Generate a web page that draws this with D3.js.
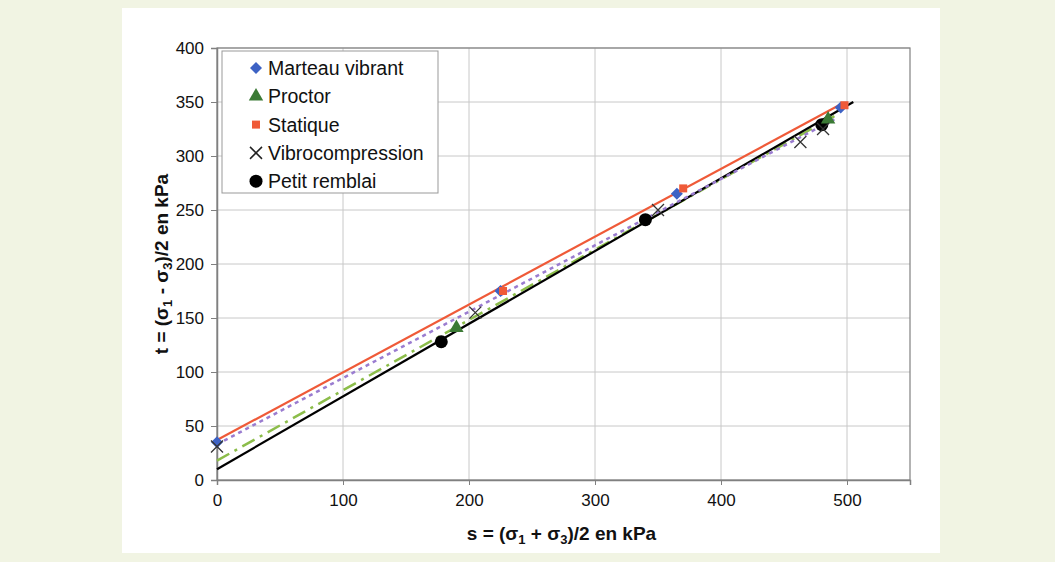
<!DOCTYPE html>
<html><head><meta charset="utf-8">
<script src="https://cdn.jsdelivr.net/npm/d3@7"></script>
<style>
html,body{margin:0;padding:0;background:#f1f4e3;}
svg{display:block;font-family:"Liberation Sans",Arial,sans-serif;}
</style></head><body>
<svg id="c" width="1055" height="562"></svg>
<script>
const xTicks = [0,100,200,300,400,500];
const yTicks = [0,50,100,150,200,250,300,350,400];

const marteauS = [0,225,365,495];
const marteauT = [35,175,265,345];
const proctorS = [190,485];
const proctorT = [141,334];
const statiqueS = [227,370,498];
const statiqueT = [175,270,347];
const vibroS = [0,205,350,463,481];
const vibroT = [31,155,250,313,325];
const petitS = [178,340,480];
const petitT = [128,241,329];

// trendline endpoints [s0,t0,s1,t1]
const lineStatique = [0,37,497,349];
const lineVibro = [0,33,490,334];
const lineProctor = [0,18,490,337];
const linePetit = [0,10,505,350];

const svg = d3.select("#c");
svg.append("rect").attr("x",122).attr("y",8).attr("width",818).attr("height",545).attr("fill","#fff");

const x = d3.scaleLinear().domain([0,550]).range([217,910]);
const y = d3.scaleLinear().domain([0,400]).range([480,48]);

const g = svg.append("g");
g.selectAll(".gx").data(xTicks.slice(1)).enter().append("line")
 .attr("x1",d=>x(d)).attr("x2",d=>x(d)).attr("y1",y(0)).attr("y2",y(400))
 .attr("stroke","#c8c8c8").attr("stroke-width",1);
g.selectAll(".gy").data(yTicks.slice(1)).enter().append("line")
 .attr("x1",x(0)).attr("x2",x(550)).attr("y1",d=>y(d)).attr("y2",d=>y(d))
 .attr("stroke","#c8c8c8").attr("stroke-width",1);
g.append("rect").attr("x",x(0)).attr("y",y(400)).attr("width",x(550)-x(0)).attr("height",y(0)-y(400))
 .attr("fill","none").attr("stroke","#808080").attr("stroke-width",1.2);

const xa = svg.append("g").attr("transform",`translate(0,${y(0)})`)
 .call(d3.axisBottom(x).tickValues(xTicks).tickSize(5).tickPadding(9));
const ya = svg.append("g").attr("transform",`translate(${x(0)},0)`)
 .call(d3.axisLeft(y).tickValues(yTicks).tickSize(6).tickPadding(7));
[xa,ya].forEach(a=>{
  a.select(".domain").attr("stroke","#808080").attr("stroke-width",1.5);
  a.selectAll(".tick line").attr("stroke","#808080");
  a.selectAll("text").attr("font-size",17).attr("fill","#111").attr("font-family","Liberation Sans, Arial, sans-serif");
});

const seg = (arr,color,w,dash)=>svg.append("line")
 .attr("x1",x(arr[0])).attr("y1",y(arr[1])).attr("x2",x(arr[2])).attr("y2",y(arr[3]))
 .attr("stroke",color).attr("stroke-width",w).attr("stroke-dasharray",dash||null);
seg(lineProctor,"#8cbd4a",2.5,"14,6,3,6");
seg(linePetit,"#000",2.2);
seg(lineStatique,"#ef5a38",2.2);
seg(lineVibro,"#9a7cd0",2.5,"4,4");

const diamond = "M0,-6L6,0L0,6L-6,0Z";
const pts = (S,T)=>S.map((s,i)=>[s,T[i]]);
svg.selectAll(".pv").data(pts(petitS,petitT)).enter().append("circle")
 .attr("cx",d=>x(d[0])).attr("cy",d=>y(d[1])).attr("r",6.5).attr("fill","#000");
svg.selectAll(".pp").data(pts(proctorS,proctorT)).enter().append("path")
 .attr("transform",d=>`translate(${x(d[0])},${y(d[1])})`)
 .attr("d",d3.symbol(d3.symbolTriangle,90)).attr("fill","#3b7a35");
svg.selectAll(".pm").data(pts(marteauS,marteauT)).enter().append("path")
 .attr("transform",d=>`translate(${x(d[0])},${y(d[1])})`)
 .attr("d",diamond).attr("fill","#3d62c4");
svg.selectAll(".ps").data(pts(statiqueS,statiqueT)).enter().append("rect")
 .attr("x",d=>x(d[0])-4).attr("y",d=>y(d[1])-4).attr("width",8).attr("height",8).attr("fill","#ef5a38");
svg.selectAll(".px").data(pts(vibroS,vibroT)).enter().append("path")
 .attr("transform",d=>`translate(${x(d[0])},${y(d[1])})`)
 .attr("d","M-6,-6L6,6M-6,6L6,-6").attr("stroke","#333").attr("stroke-width",1.3).attr("fill","none");

const lg = svg.append("g").attr("transform","translate(222,51)");
lg.append("rect").attr("width",216).attr("height",142).attr("fill","#fff").attr("stroke","#999");
const items = [
 {name:"Marteau vibrant",type:"diamond",c:"#3d62c4"},
 {name:"Proctor",type:"triangle",c:"#3b7a35"},
 {name:"Statique",type:"square",c:"#ef5a38"},
 {name:"Vibrocompression",type:"x",c:"#222"},
 {name:"Petit remblai",type:"circle",c:"#000"}
];
items.forEach((it,i)=>{
  const cy = 17+i*28.3, cx=34;
  const gg = lg.append("g").attr("transform",`translate(${cx},${cy})`);
  if(it.type==="diamond") gg.append("path").attr("d",diamond).attr("fill",it.c);
  if(it.type==="triangle") gg.append("path").attr("d",d3.symbol(d3.symbolTriangle,90)).attr("fill",it.c);
  if(it.type==="square") gg.append("rect").attr("x",-4).attr("y",-4).attr("width",8).attr("height",8).attr("fill",it.c);
  if(it.type==="x") gg.append("path").attr("d","M-6,-6L6,6M-6,6L6,-6").attr("stroke",it.c).attr("stroke-width",1.5);
  if(it.type==="circle") gg.append("circle").attr("r",6.5).attr("fill",it.c);
  lg.append("text").attr("x",46).attr("y",cy+7).text(it.name).attr("font-size",19.5).attr("fill","#111");
});

const xt = svg.append("text").attr("x",(x(0)+x(550))/2-2).attr("y",540).attr("text-anchor","middle")
 .attr("font-size",19).attr("font-weight","bold").attr("fill","#111");
xt.append("tspan").text("s = (σ");
xt.append("tspan").text("1").attr("font-size",13).attr("dy",4);
xt.append("tspan").text(" + σ").attr("dy",-4);
xt.append("tspan").text("3").attr("font-size",13).attr("dy",4);
xt.append("tspan").text(")/2 en kPa").attr("dy",-4);

const yt = svg.append("text").attr("transform",`translate(168,${(y(0)+y(400))/2}) rotate(-90)`).attr("text-anchor","middle")
 .attr("font-size",19).attr("font-weight","bold").attr("fill","#111");
yt.append("tspan").text("t = (σ");
yt.append("tspan").text("1").attr("font-size",13).attr("dy",4);
yt.append("tspan").text(" - σ").attr("dy",-4);
yt.append("tspan").text("3").attr("font-size",13).attr("dy",4);
yt.append("tspan").text(")/2 en kPa").attr("dy",-4);
</script>
</body></html>
